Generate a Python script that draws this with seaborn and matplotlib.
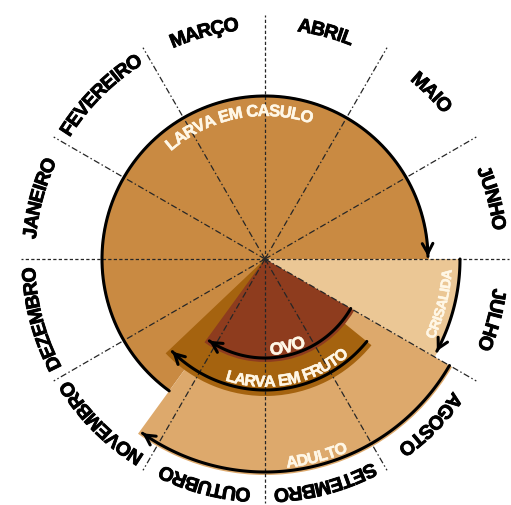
import numpy as np
import matplotlib
matplotlib.use("Agg")
import matplotlib.pyplot as plt
import matplotlib.patheffects as pe
import seaborn as sns
from matplotlib import font_manager
from matplotlib.ft2font import FT2Font

# ---------------- data ----------------
months = ["JANEIRO", "FEVEREIRO", "MARÇO", "ABRIL", "MAIO", "JUNHO",
          "JULHO", "AGOSTO", "SETEMBRO", "OUTUBRO", "NOVEMBRO", "DEZEMBRO"]
stage_names = ["LARVA EM CASULO", "CRISALIDA", "ADULTO", "LARVA EM FRUTO", "OVO"]
# start / end of each stage, in months from 1 January (values > 12 wrap into next year)
stage_start = [10.2, 6.0, 7.0, 7.3, 7.0]
stage_end = [18.0, 7.0, 10.2, 10.55, 10.2]

# ---------------- styles ----------------
stage_colors = ["#C98A42", "#EBC795", "#DDA96C", "#A5630F", "#8E3C1E"]
bar_radius = [164, 196, 216, 137, 103]
arc_radius = [163, 195, 213, 131, 99]
arc_trim = [0.03, 0.06, 0.03, 0.05, 0.06]
label_month = [2.63, 6.48, 8.51, 8.62, 8.52]
label_r = [149, 182, 204, 122, 90]
label_size = [12, 10.2, 11.5, 11.5, 12.5]
label_spacing = [0.92, 0.93, 0.95, 0.92, 0.95]
label_outward = [True, False, False, False, False]
text_white = "#FFF7E6"

DPI = 100
W, H = 511, 506
CX, CY = 265, 260
R = 246
FAMILY = "Liberation Sans"

sns.set_style("white")
plt.rcParams["font.family"] = [FAMILY, "DejaVu Sans"]

fig = plt.figure(figsize=(W / DPI, H / DPI), dpi=DPI)
ax = fig.add_axes([(CX - R) / W, (H - CY - R) / H, 2 * R / W, 2 * R / H],
                  projection="polar")
ax.set_theta_zero_location("W")
ax.set_theta_direction(-1)


def th(m):
    return np.asarray(m) * np.pi / 6.0


# font metrics for curved text
_fp = font_manager.FontProperties(family=FAMILY, weight="bold")
_fpath = font_manager.findfont(_fp)
_ft = FT2Font(_fpath)


def adv_px(ch, size):
    try:
        _ft.set_size(size, 72)
        g = _ft.load_char(ord(ch))
        return g.linearHoriAdvance / 65536.0 * DPI / 72.0
    except Exception:
        return 0.68 * size * DPI / 72.0


def curved_text(s, m_center, r_center, size, color, outward=True, spacing=1.0,
                stroke=0.5):
    advs = [adv_px(c, size) * spacing for c in s]
    total = sum(advs)
    cap = 0.716 * size * DPI / 72.0
    r_base = r_center - cap / 2 if outward else r_center + cap / 2
    direction = 1 if outward else -1
    tc = float(th(m_center))
    pos = -total / 2
    for c, a in zip(s, advs):
        mid = pos + a / 2
        pos += a
        if c == " ":
            continue
        t = tc + direction * mid / r_base
        tdeg = np.degrees(t)
        rot = (90 - tdeg) if outward else (270 - tdeg)
        rot = (rot + 180) % 360 - 180
        ax.text(t, r_base, c, rotation=rot, rotation_mode="anchor",
                ha="center", va="baseline", fontsize=size, fontweight="bold",
                color=color, family=FAMILY, zorder=6, clip_on=False,
                path_effects=[pe.withStroke(linewidth=stroke, foreground=color)])


# wedges
for s, e, r, col in zip(stage_start, stage_end, bar_radius, stage_colors):
    ax.bar(th(s), r, width=th(e) - th(s), bottom=0, align="edge",
           color=col, edgecolor="none", linewidth=0, zorder=1)

# month boundary lines
for k in range(12):
    t = float(th(k))
    ls = (0, (2.6, 1.8)) if k % 3 == 0 else (0, (5, 2, 1.2, 2))
    ax.plot([t, t], [0, 244], color="#262626", lw=0.9, ls=ls, zorder=2,
            clip_on=False)

# stage arcs with arrows
for s, e, r, trim in zip(stage_start, stage_end, arc_radius, arc_trim):
    t0, t1 = float(th(s)), float(th(e - trim))
    tt = np.linspace(t0, t1, 120)
    sns.lineplot(x=tt, y=np.full_like(tt, r), ax=ax, color="black", lw=2.2,
                 sort=False, estimator=None, zorder=4)
    ax.annotate("", xy=(t1, r), xytext=(t1 - 5.0 / r, r),
                arrowprops=dict(arrowstyle="->,head_length=0.7,head_width=0.38",
                                lw=2.2, color="black", shrinkA=0, shrinkB=0),
                zorder=5, annotation_clip=False)

# stage labels
for name, m, r, sz, sp, out in zip(stage_names, label_month, label_r, label_size,
                                   label_spacing, label_outward):
    curved_text(name, m, r, sz, text_white, outward=out, spacing=sp, stroke=0.4)

# month labels
for i, name in enumerate(months):
    curved_text(name, i + 0.5, 237, 14, "black", outward=True, spacing=0.93,
                stroke=0.6)

ax.set_ylim(0, R)
ax.set_axis_off()
ax.set_xlabel("")
ax.set_ylabel("")
fig.savefig("out.png", dpi=DPI, facecolor="white")
